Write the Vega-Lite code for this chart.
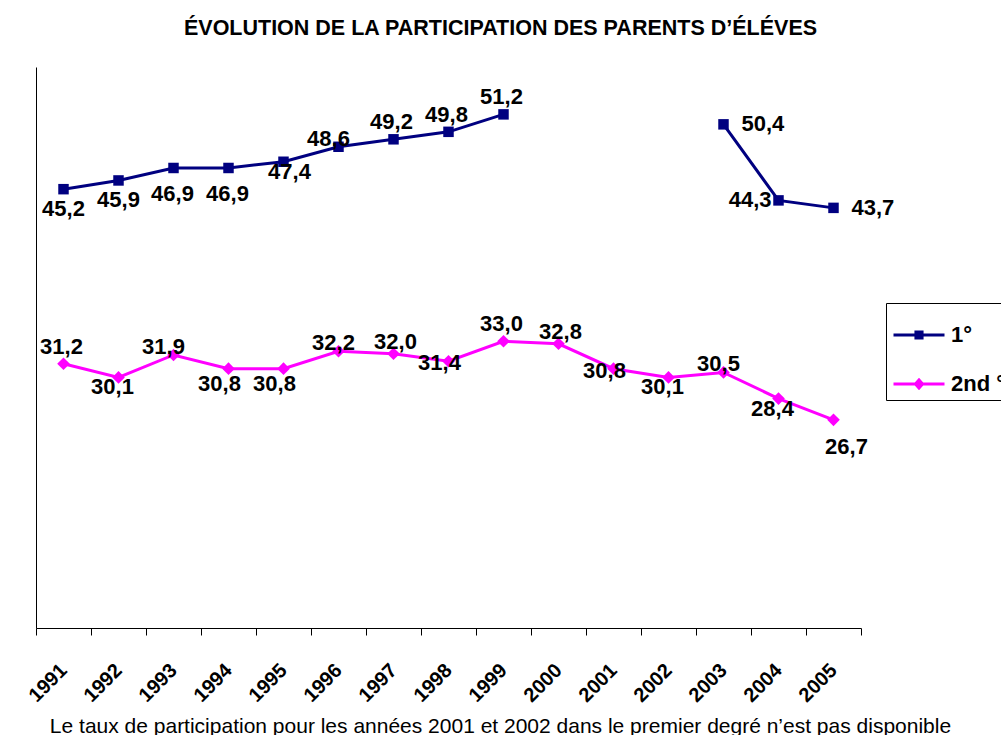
{
  "$schema": "https://vega.github.io/schema/vega-lite/v6.json",
  "autosize": {"type": "none"},
  "padding": {"left": 36, "top": 67, "right": 140, "bottom": 107},
  "width": 825,
  "height": 561,
  "background": "white",
  "title": {
    "text": "ÉVOLUTION DE LA PARTICIPATION DES PARENTS D’ÉLÉVES",
    "font": "Liberation Sans",
    "fontSize": 21.5,
    "fontWeight": "bold",
    "color": "black",
    "anchor": "middle",
    "baseline": "alphabetic",
    "dx": 52,
    "dy": 24,
    "offset": 35
  },
  "data": {
    "values": [
      {"annee": "1991", "serie": "1°", "taux": 45.2},
      {"annee": "1992", "serie": "1°", "taux": 45.9},
      {"annee": "1993", "serie": "1°", "taux": 46.9},
      {"annee": "1994", "serie": "1°", "taux": 46.9},
      {"annee": "1995", "serie": "1°", "taux": 47.4},
      {"annee": "1996", "serie": "1°", "taux": 48.6},
      {"annee": "1997", "serie": "1°", "taux": 49.2},
      {"annee": "1998", "serie": "1°", "taux": 49.8},
      {"annee": "1999", "serie": "1°", "taux": 51.2},
      {"annee": "2003", "serie": "1°", "taux": 50.4},
      {"annee": "2004", "serie": "1°", "taux": 44.3},
      {"annee": "2005", "serie": "1°", "taux": 43.7},
      {"annee": "1991", "serie": "2nd °", "taux": 31.2},
      {"annee": "1992", "serie": "2nd °", "taux": 30.1},
      {"annee": "1993", "serie": "2nd °", "taux": 31.9},
      {"annee": "1994", "serie": "2nd °", "taux": 30.8},
      {"annee": "1995", "serie": "2nd °", "taux": 30.8},
      {"annee": "1996", "serie": "2nd °", "taux": 32.2},
      {"annee": "1997", "serie": "2nd °", "taux": 32.0},
      {"annee": "1998", "serie": "2nd °", "taux": 31.4},
      {"annee": "1999", "serie": "2nd °", "taux": 33.0},
      {"annee": "2000", "serie": "2nd °", "taux": 32.8},
      {"annee": "2001", "serie": "2nd °", "taux": 30.8},
      {"annee": "2002", "serie": "2nd °", "taux": 30.1},
      {"annee": "2003", "serie": "2nd °", "taux": 30.5},
      {"annee": "2004", "serie": "2nd °", "taux": 28.4},
      {"annee": "2005", "serie": "2nd °", "taux": 26.7}
    ]
  },
  "encoding": {
    "x": {
      "field": "annee",
      "type": "ordinal",
      "scale": {
        "type": "band",
        "paddingInner": 0,
        "paddingOuter": 0,
        "domain": ["1991","1992","1993","1994","1995","1996","1997","1998","1999","2000","2001","2002","2003","2004","2005"]
      },
      "axis": {
        "title": "Le taux de participation pour les années 2001 et 2002 dans le premier degré n’est pas disponible",
        "titleFont": "Liberation Sans",
        "titleFontSize": 21,
        "titleFontWeight": "normal",
        "titleColor": "black",
        "titleX": 464,
        "titleY": 104,
        "titleAlign": "center",
        "titleBaseline": "alphabetic",
        "tickBand": "extent",
        "tickSize": 7,
        "tickColor": "black",
        "domainColor": "black",
        "labelAngle": -45,
        "labelAlign": "right",
        "labelBaseline": "middle",
        "labelPadding": 32,
        "labelDx": -13,
        "labelFont": "Liberation Sans",
        "labelFontSize": 20,
        "labelFontWeight": "bold",
        "labelColor": "black",
        "grid": false
      }
    },
    "y": {
      "field": "taux",
      "type": "quantitative",
      "scale": {"domain": [10, 55], "nice": false, "zero": false},
      "axis": {"title": null, "labels": false, "ticks": false, "grid": false, "domainColor": "black"}
    },
    "color": {
      "field": "serie",
      "type": "nominal",
      "scale": {"domain": ["1°", "2nd °"], "range": ["#000080", "#FF00FF"]},
      "legend": {
        "orient": "none",
        "legendX": 850,
        "legendY": 236,
        "title": null,
        "strokeColor": "black",
        "fillColor": "white",
        "padding": 5,
        "symbolSize": 2601,
        "symbolOffset": 1,
        "labelOffset": 5,
        "rowPadding": 11,
        "labelFont": "Liberation Sans",
        "labelFontSize": 22,
        "labelFontWeight": "bold",
        "labelColor": "black",
        "encode": {
          "symbols": {
            "update": {
              "shape": {"signal": "datum.value == '1°' ? 'M-1,0H1M-0.12,-0.12H0.12V0.12H-0.12Z' : 'M-1,0H1M-0.14,0L0,-0.16L0.14,0L0,0.16Z'"},
              "fill": {"signal": "datum.value == '1°' ? '#000080' : '#FF00FF'"},
              "stroke": {"signal": "datum.value == '1°' ? '#000080' : '#FF00FF'"},
              "strokeWidth": {"value": 3},
              "opacity": {"value": 1}
            }
          }
        }
      }
    }
  },
  "layer": [
    {
      "transform": [{"filter": "datum.serie == '1°' && +datum.annee <= 1999"}],
      "mark": {"type": "line", "strokeWidth": 3}
    },
    {
      "transform": [{"filter": "datum.serie == '1°' && +datum.annee >= 2003"}],
      "mark": {"type": "line", "strokeWidth": 3}
    },
    {
      "transform": [{"filter": "datum.serie == '2nd °'"}],
      "mark": {"type": "line", "strokeWidth": 3}
    },
    {
      "transform": [{"filter": "datum.serie == '1°'"}],
      "mark": {"type": "point", "filled": true, "size": 110, "opacity": 1, "shape": "square"}
    },
    {
      "transform": [{"filter": "datum.serie == '2nd °'"}],
      "mark": {"type": "point", "filled": true, "size": 160, "opacity": 1, "shape": "diamond"}
    },
    {
      "transform": [{"filter": "indexof(['p1997','p1998','p1999','s1991','s1999'], (datum.serie == '1°' ? 'p' : 's') + datum.annee) >= 0"}],
      "mark": {"type": "text", "font": "Liberation Sans", "fontSize": 22, "fontWeight": "bold", "baseline": "middle", "align": "center", "dx": -2, "dy": -17},
      "encoding": {"color": {"value": "black"}, "text": {"field": "taux", "type": "quantitative", "format": ".1f"}}
    },
    {
      "transform": [{"filter": "indexof(['s1993','p1996'], (datum.serie == '1°' ? 'p' : 's') + datum.annee) >= 0"}],
      "mark": {"type": "text", "font": "Liberation Sans", "fontSize": 22, "fontWeight": "bold", "baseline": "middle", "align": "center", "dx": -10, "dy": -8},
      "encoding": {"color": {"value": "black"}, "text": {"field": "taux", "type": "quantitative", "format": ".1f"}}
    },
    {
      "transform": [{"filter": "indexof(['s1996','s2003'], (datum.serie == '1°' ? 'p' : 's') + datum.annee) >= 0"}],
      "mark": {"type": "text", "font": "Liberation Sans", "fontSize": 22, "fontWeight": "bold", "baseline": "middle", "align": "center", "dx": -5, "dy": -8},
      "encoding": {"color": {"value": "black"}, "text": {"field": "taux", "type": "quantitative", "format": ".1f"}}
    },
    {
      "transform": [{"filter": "indexof(['s2000','s1997'], (datum.serie == '1°' ? 'p' : 's') + datum.annee) >= 0"}],
      "mark": {"type": "text", "font": "Liberation Sans", "fontSize": 22, "fontWeight": "bold", "baseline": "middle", "align": "center", "dx": 2, "dy": -12},
      "encoding": {"color": {"value": "black"}, "text": {"field": "taux", "type": "quantitative", "format": ".1f"}}
    },
    {
      "transform": [{"filter": "indexof(['p1991','p1992'], (datum.serie == '1°' ? 'p' : 's') + datum.annee) >= 0"}],
      "mark": {"type": "text", "font": "Liberation Sans", "fontSize": 22, "fontWeight": "bold", "baseline": "middle", "align": "center", "dx": 0, "dy": 20},
      "encoding": {"color": {"value": "black"}, "text": {"field": "taux", "type": "quantitative", "format": ".1f"}}
    },
    {
      "transform": [{"filter": "indexof(['p1993','p1994'], (datum.serie == '1°' ? 'p' : 's') + datum.annee) >= 0"}],
      "mark": {"type": "text", "font": "Liberation Sans", "fontSize": 22, "fontWeight": "bold", "baseline": "middle", "align": "center", "dx": -1, "dy": 26},
      "encoding": {"color": {"value": "black"}, "text": {"field": "taux", "type": "quantitative", "format": ".1f"}}
    },
    {
      "transform": [{"filter": "indexof(['s1994','s1995'], (datum.serie == '1°' ? 'p' : 's') + datum.annee) >= 0"}],
      "mark": {"type": "text", "font": "Liberation Sans", "fontSize": 22, "fontWeight": "bold", "baseline": "middle", "align": "center", "dx": -9, "dy": 15},
      "encoding": {"color": {"value": "black"}, "text": {"field": "taux", "type": "quantitative", "format": ".1f"}}
    },
    {
      "transform": [{"filter": "indexof(['s2004','s2002','s1992'], (datum.serie == '1°' ? 'p' : 's') + datum.annee) >= 0"}],
      "mark": {"type": "text", "font": "Liberation Sans", "fontSize": 22, "fontWeight": "bold", "baseline": "middle", "align": "center", "dx": -6, "dy": 10},
      "encoding": {"color": {"value": "black"}, "text": {"field": "taux", "type": "quantitative", "format": ".1f"}}
    },
    {
      "transform": [{"filter": "indexof(['p1995'], (datum.serie == '1°' ? 'p' : 's') + datum.annee) >= 0"}],
      "mark": {"type": "text", "font": "Liberation Sans", "fontSize": 22, "fontWeight": "bold", "baseline": "middle", "align": "center", "dx": 6, "dy": 10},
      "encoding": {"color": {"value": "black"}, "text": {"field": "taux", "type": "quantitative", "format": ".1f"}}
    },
    {
      "transform": [{"filter": "indexof(['s1998','s2001'], (datum.serie == '1°' ? 'p' : 's') + datum.annee) >= 0"}],
      "mark": {"type": "text", "font": "Liberation Sans", "fontSize": 22, "fontWeight": "bold", "baseline": "middle", "align": "center", "dx": -9, "dy": 2},
      "encoding": {"color": {"value": "black"}, "text": {"field": "taux", "type": "quantitative", "format": ".1f"}}
    },
    {
      "transform": [{"filter": "indexof(['s2005'], (datum.serie == '1°' ? 'p' : 's') + datum.annee) >= 0"}],
      "mark": {"type": "text", "font": "Liberation Sans", "fontSize": 22, "fontWeight": "bold", "baseline": "middle", "align": "center", "dx": 13, "dy": 27},
      "encoding": {"color": {"value": "black"}, "text": {"field": "taux", "type": "quantitative", "format": ".1f"}}
    },
    {
      "transform": [{"filter": "indexof(['p2003','p2005'], (datum.serie == '1°' ? 'p' : 's') + datum.annee) >= 0"}],
      "mark": {"type": "text", "font": "Liberation Sans", "fontSize": 22, "fontWeight": "bold", "baseline": "middle", "align": "left", "dx": 18, "dy": 0},
      "encoding": {"color": {"value": "black"}, "text": {"field": "taux", "type": "quantitative", "format": ".1f"}}
    },
    {
      "transform": [{"filter": "indexof(['p2004'], (datum.serie == '1°' ? 'p' : 's') + datum.annee) >= 0"}],
      "mark": {"type": "text", "font": "Liberation Sans", "fontSize": 22, "fontWeight": "bold", "baseline": "middle", "align": "right", "dx": -7, "dy": 0},
      "encoding": {"color": {"value": "black"}, "text": {"field": "taux", "type": "quantitative", "format": ".1f"}}
    }
  ],
  "config": {
    "view": {"stroke": null},
    "locale": {
      "number": {"decimal": ",", "thousands": " ", "grouping": [3], "currency": ["", " €"]}
    }
  }
}
